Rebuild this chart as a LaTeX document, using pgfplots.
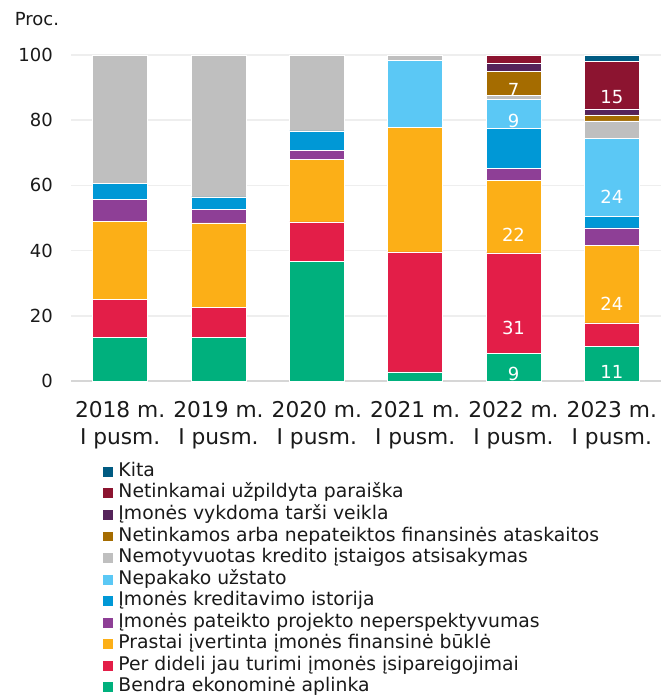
\documentclass[border=0pt]{standalone}
\usepackage{fontspec}
\setmainfont{DejaVu Sans}
\usepackage{pgfplots}
\pgfplotsset{compat=1.18}
\definecolor{cKita}{HTML}{005B82}
\definecolor{cDred}{HTML}{8C1430}
\definecolor{cDpur}{HTML}{55235A}
\definecolor{cBrown}{HTML}{A56C00}
\definecolor{cGray}{HTML}{BFBFBF}
\definecolor{cLblue}{HTML}{5BC8F5}
\definecolor{cBlue}{HTML}{0098D6}
\definecolor{cPur}{HTML}{8E3F96}
\definecolor{cOrange}{HTML}{FCAF17}
\definecolor{cRed}{HTML}{E31E48}
\definecolor{cGreen}{HTML}{00B07D}
\definecolor{cGrid}{HTML}{EEEEEE}
\definecolor{cAxis}{HTML}{D6D6D6}
\definecolor{cText}{HTML}{1A1A1A}
\begin{document}
\begin{tikzpicture}
\useasboundingbox (0,0) rectangle (501.75pt,-523.5pt);
\node[anchor=west, inner sep=0pt, text=cText, font=\fontsize{13.5}{16}\selectfont] at (11pt,-14.5pt) {Proc.};
\begin{axis}[
  at={(53.25pt,-285.75pt)}, anchor=south west,
  scale only axis, width=442.5pt, height=244.5pt,
  ybar stacked, bar width=41.25pt,
  xmin=-0.5, xmax=5.5, ymin=0, ymax=100,
  xtick={0,1,2,3,4,5},
  xticklabels={{2018 m.\\I pusm.},{2019 m.\\I pusm.},{2020 m.\\I pusm.},{2021 m.\\I pusm.},{2022 m.\\I pusm.},{2023 m.\\I pusm.}},
  ytick={0,20,40,60,80,100},
  major tick length=0pt,
  axis x line*=bottom, axis y line*=left,
  x axis line style={draw=cAxis, line width=1.5pt, -},
  y axis line style={draw=none},
  ymajorgrids, grid style={draw=cGrid, line width=1.1pt},
  /pgf/number format/assume math mode=true,
  yticklabel style={font=\fontsize{13.5}{16}\selectfont, text=cText, inner sep=0pt, xshift=-13.5pt},
  xticklabel style={font=\fontsize{16.3}{20.25}\selectfont, text=cText, align=center, inner sep=0pt, yshift=-15pt},
  every axis plot/.append style={draw=white, line width=0.4pt},
  point meta=explicit symbolic,
  visualization depends on=rawy \as \rawy,
  nodes near coords style={font=\fontsize{13.5}{16}\selectfont, text=white, anchor=center, shift={(axis direction cs:0,-\rawy/4)}},
  reverse legend,
  legend style={at={(0.0525,-0.2485)}, anchor=north west, draw=none, fill=none, inner sep=0pt,
    font=\fontsize{14.1}{16}\selectfont, text=cText,
    nodes={inner sep=0pt, text height=10.6pt, text depth=3.5pt},
    row sep=2.05pt, column sep=3.5pt, cells={anchor=west}},
  legend image code/.code={\fill[#1] (0pt,-4.1pt) rectangle (8.25pt,4.1pt);},
]
\addplot[fill=cGreen, nodes near coords] coordinates {(0,13.3)[] (1,13.3)[] (2,36.7)[] (3,2.8)[] (4,8.4)[9] (5,10.6)[11]};
\addlegendentry{Bendra ekonominė aplinka}
\addplot[fill=cRed, nodes near coords] coordinates {(0,11.8)[] (1,9.4)[] (2,12.1)[] (3,36.8)[] (4,30.9)[31] (5,7.2)[]};
\addlegendentry{Per dideli jau turimi įmonės įsipareigojimai}
\addplot[fill=cOrange, nodes near coords] coordinates {(0,23.9)[] (1,25.8)[] (2,19.1)[] (3,38.2)[] (4,22.2)[22] (5,23.9)[24]};
\addlegendentry{Prastai įvertinta įmonės finansinė būklė}
\addplot[fill=cPur] coordinates {(0,6.7)[] (1,4.1)[] (2,2.8)[] (3,0)[] (4,3.7)[] (5,5.3)[]};
\addlegendentry{Įmonės pateikto projekto neperspektyvumas}
\addplot[fill=cBlue] coordinates {(0,5.0)[] (1,3.9)[] (2,6.0)[] (3,0)[] (4,12.3)[] (5,3.6)[]};
\addlegendentry{Įmonės kreditavimo istorija}
\addplot[fill=cLblue, nodes near coords] coordinates {(0,0)[] (1,0)[] (2,0)[] (3,20.5)[] (4,8.8)[9] (5,23.8)[24]};
\addlegendentry{Nepakako užstato}
\addplot[fill=cGray] coordinates {(0,39.3)[] (1,43.5)[] (2,23.3)[] (3,1.7)[] (4,1.2)[] (5,5.4)[]};
\addlegendentry{Nemotyvuotas kredito įstaigos atsisakymas}
\addplot[fill=cBrown, nodes near coords] coordinates {(0,0)[] (1,0)[] (2,0)[] (3,0)[] (4,7.5)[7] (5,1.8)[]};
\addlegendentry{Netinkamos arba nepateiktos finansinės ataskaitos}
\addplot[fill=cDpur] coordinates {(0,0)[] (1,0)[] (2,0)[] (3,0)[] (4,2.4)[] (5,1.9)[]};
\addlegendentry{Įmonės vykdoma tarši veikla}
\addplot[fill=cDred, nodes near coords] coordinates {(0,0)[] (1,0)[] (2,0)[] (3,0)[] (4,2.4)[] (5,14.5)[15]};
\addlegendentry{Netinkamai užpildyta paraiška}
\addplot[fill=cKita] coordinates {(0,0)[] (1,0)[] (2,0)[] (3,0)[] (4,0.2)[] (5,2.0)[]};
\addlegendentry{Kita}
\end{axis}
\end{tikzpicture}
\end{document}
